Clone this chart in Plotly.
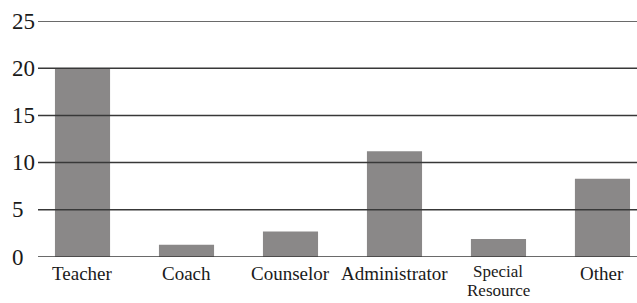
import plotly.graph_objects as go

categories = ["Teacher", "Coach", "Counselor", "Administrator", "Special<br>Resource", "Other"]
values = [20.0, 1.3, 2.7, 11.2, 1.9, 8.3]
y_ticks = [0, 5, 10, 15, 20, 25]

FONT = "Liberation Serif"
fig = go.Figure()
fig.add_trace(go.Bar(
    x=list(range(len(categories))), y=values,
    marker=dict(color="#8a8888", line=dict(width=0)),
    width=0.53, hoverinfo="skip",
))

for t in y_ticks:
    fig.add_shape(type="line", xref="paper", yref="y", x0=0, x1=1, y0=t, y1=t,
                  line=dict(color="#383838", width=1.5), layer="above")
    fig.add_annotation(xref="paper", yref="y", x=-0.047, y=t, text=str(t),
                       showarrow=False, xanchor="left", yanchor="middle",
                       font=dict(family=FONT, size=23, color="#1a1a1a"))

for i, cat in enumerate(categories):
    lines = cat.split("<br>")
    multi = len(lines) > 1
    size = 17 if multi else 19
    step = 19
    for j, line in enumerate(lines):
        fig.add_annotation(xref="x", yref="y", x=i, y=0, text=line,
                           showarrow=False, xanchor="center", yanchor="top",
                           borderpad=0,
                           yshift=(-4 if multi else -5) - step * j,
                           font=dict(family=FONT, size=size, color="#1a1a1a"))

fig.update_layout(
    width=637, height=303,
    margin=dict(l=38, r=0, t=21, b=46),
    paper_bgcolor="white", plot_bgcolor="white",
    showlegend=False,
    xaxis=dict(range=[-0.428, 5.332], showticklabels=False, automargin=False,
               showgrid=False, zeroline=False, showline=False, ticks=""),
    yaxis=dict(range=[0, 25], showgrid=False, zeroline=False, showline=False,
               showticklabels=False, ticks="", automargin=False),
)
fig.write_html("out.html", config={"displayModeBar": False},
               post_script="document.body.style.margin='0';document.body.style.overflow='hidden';")
